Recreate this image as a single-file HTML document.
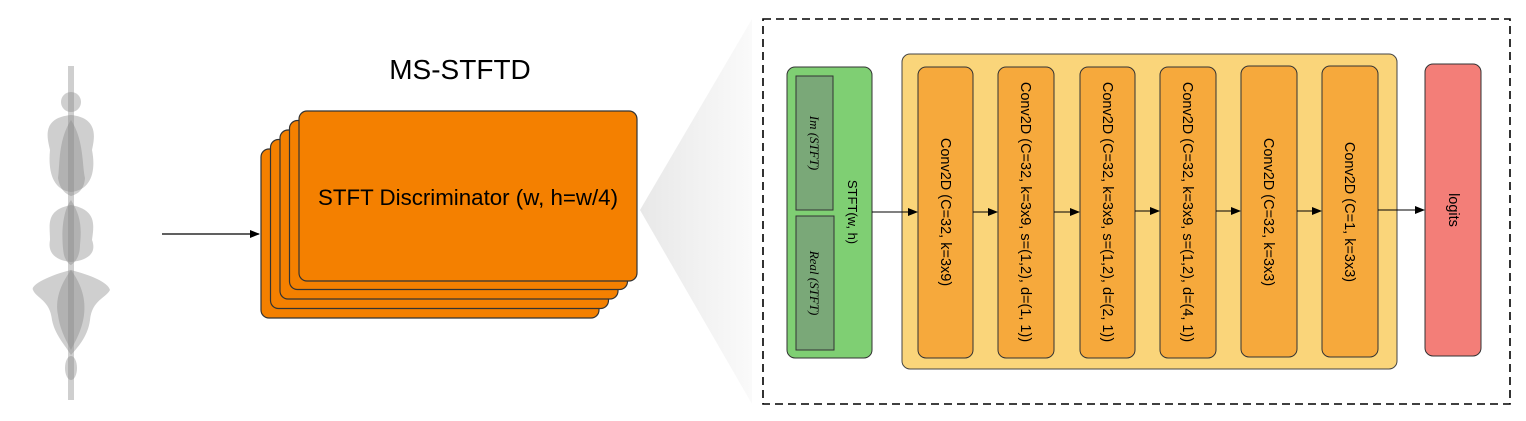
<!DOCTYPE html>
<html><head><meta charset="utf-8"><style>body{margin:0;background:#fff}svg{display:block}</style></head><body>
<svg width="1526" height="421" viewBox="0 0 1526 421" xmlns="http://www.w3.org/2000/svg" font-family="Liberation Sans, Arial, sans-serif">
<defs>
<linearGradient id="g" x1="0" x2="1" y1="0" y2="0"><stop offset="0" stop-color="#e8e8e8"/><stop offset="1" stop-color="#fafafa"/></linearGradient>
<marker id="a" markerWidth="10" markerHeight="8" refX="9" refY="4" orient="auto" markerUnits="userSpaceOnUse"><path d="M0,0 L10,4 L0,8 z" fill="#000"/></marker>
</defs>
<g fill="#888" fill-opacity="0.4">
<ellipse cx="71" cy="102" rx="10" ry="10"/>
<path d="M71,115 C40,118 48,140 50,150 C48,170 52,190 71,192 C92,190 96,170 92,150 C94,140 100,118 71,115z"/>
<path d="M71,120 C58,140 60,165 58,178 C60,190 66,194 71,196 C78,194 84,190 85,178 C82,165 84,140 71,120z"/>
<path d="M71,205 C45,210 50,225 50,240 C48,250 52,260 71,262 C92,260 96,250 92,240 C94,225 97,210 71,205z"/>
<path d="M71,200 C60,215 62,245 64,255 C66,262 70,265 71,265 C76,262 80,255 80,245 C82,225 80,215 71,200z"/>
<path d="M71,270 C50,275 30,285 33,290 C36,298 50,300 52,320 C55,335 65,345 71,355 C80,345 88,335 90,320 C92,300 106,298 110,290 C108,282 90,275 71,270z"/>
<path d="M71,270 C60,285 55,300 58,315 C60,330 66,340 71,350 C76,340 82,330 84,315 C86,300 82,285 71,270z"/>
<rect x="68" y="66" width="6" height="334"/>
<ellipse cx="71" cy="368" rx="6" ry="12"/>
</g>
<line x1="162" y1="234" x2="259" y2="234" stroke="#000" stroke-width="1.3" marker-end="url(#a)"/>
<text x="460" y="79" font-size="28" text-anchor="middle">MS-STFTD</text>
<polygon points="640,210 752,19 752,404" fill="url(#g)"/>
<g fill="#f48000" stroke="#333" stroke-width="1.2">
<rect x="261" y="149" width="338" height="169" rx="8"/>
<rect x="270.5" y="139.5" width="338" height="169" rx="8"/>
<rect x="280" y="130" width="338" height="169" rx="8"/>
<rect x="289.5" y="120.5" width="338" height="169" rx="8"/>
<rect x="299" y="111" width="338" height="170" rx="8"/>
</g>
<text x="468" y="205" font-size="22.3" text-anchor="middle">STFT Discriminator (w, h=w/4)</text>
<rect x="763" y="19" width="747" height="385" fill="none" stroke="#000" stroke-width="1.6" stroke-dasharray="8,5"/>
<rect x="787" y="67" width="85" height="291" rx="8" fill="#7fcf73" stroke="#333"/>
<rect x="796" y="76" width="37" height="134" fill="#7aa878" stroke="#333"/>
<rect x="796" y="216" width="38" height="134" fill="#7aa878" stroke="#333"/>
<text transform="translate(810,143) rotate(90)" font-family="Liberation Serif, serif" font-style="italic" font-size="13" text-anchor="middle">Im (STFT)</text>
<text transform="translate(810,283) rotate(90)" font-family="Liberation Serif, serif" font-style="italic" font-size="13" text-anchor="middle">Real (STFT)</text>
<text transform="translate(848,212) rotate(90)" font-size="13" text-anchor="middle">STFT(w, h)</text>
<rect x="902" y="54" width="495" height="315" rx="8" fill="#fad57a" stroke="#444"/>
<g fill="#f6a93c" stroke="#333">
<rect x="918" y="67" width="55" height="291" rx="8"/>
<rect x="998" y="67" width="56" height="291" rx="8"/>
<rect x="1080" y="67" width="55" height="291" rx="8"/>
<rect x="1160" y="67" width="56" height="291" rx="8"/>
<rect x="1241" y="66" width="56" height="291" rx="8"/>
<rect x="1322" y="66" width="56" height="291" rx="8"/>
</g>
<rect x="1425" y="64" width="56" height="292" rx="8" fill="#f37e78" stroke="#333"/>
<g font-size="14.5" text-anchor="middle">
<text transform="translate(941,212) rotate(90)">Conv2D (C=32, k=3x9)</text>
<text transform="translate(1021,212) rotate(90)">Conv2D (C=32, k=3x9, s=(1,2), d=(1, 1))</text>
<text transform="translate(1103,212) rotate(90)">Conv2D (C=32, k=3x9, s=(1,2), d=(2, 1))</text>
<text transform="translate(1183,212) rotate(90)">Conv2D (C=32, k=3x9, s=(1,2), d=(4, 1))</text>
<text transform="translate(1264,212) rotate(90)">Conv2D (C=32, k=3x3)</text>
<text transform="translate(1345,212) rotate(90)">Conv2D (C=1, k=3x3)</text>
<text transform="translate(1449,210) rotate(90)">logits</text>
</g>
<g stroke="#000" stroke-width="1.1" marker-end="url(#a)">
<line x1="872" y1="212" x2="917" y2="212"/>
<line x1="973" y1="212" x2="997" y2="212"/>
<line x1="1054" y1="212" x2="1079" y2="212"/>
<line x1="1135" y1="211" x2="1159" y2="211"/>
<line x1="1216" y1="211" x2="1240" y2="211"/>
<line x1="1297" y1="211" x2="1321" y2="211"/>
<line x1="1378" y1="210" x2="1424" y2="210"/>
</g>
</svg>
</body></html>
